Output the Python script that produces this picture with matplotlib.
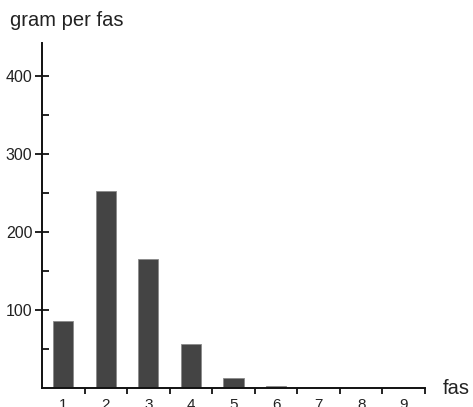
import matplotlib
matplotlib.use("Agg")
import matplotlib.pyplot as plt
from matplotlib.ticker import FixedLocator

plt.rcParams['font.family'] = ['Liberation Sans', 'DejaVu Sans']

phases = [1, 2, 3, 4, 5, 6, 7, 8, 9]
grams = [86, 253, 165, 57, 13, 3, 0, 0, 0]
x_labels = ['1', '2', '3', '4', '5', '6', '7', '8', '9']
y_major = [100, 200, 300, 400]
y_minor = [50, 150, 250, 350]

W, H = 473, 407
fig = plt.figure(figsize=(W / 100, H / 100), dpi=100)
ax = fig.add_axes([42 / W, 1 - 388 / H, (425 - 42) / W, (388 - 43) / H])

ax.bar(phases, grams, width=0.47, color='#444444', edgecolor='#8a8a8a', linewidth=0.6)

ax.set_xlim(0.5, 9.5)
ax.set_ylim(0, 442)

for s in ['top', 'right']:
    ax.spines[s].set_visible(False)
for s in ['left', 'bottom']:
    ax.spines[s].set_linewidth(1.4)
    ax.spines[s].set_color('#111111')

# x: labels under the bars, tick marks between the bars
ax.set_xticks(phases)
ax.set_xticklabels(x_labels)
ax.xaxis.set_minor_locator(FixedLocator([p + 0.5 for p in phases]))
ax.tick_params(axis='x', which='major', length=0, pad=7, labelsize=11, colors='#222222')
ax.tick_params(axis='x', which='minor', length=4, width=1.3, direction='out', color='#111111')

# y: crossing major ticks, inward minor ticks
ax.set_yticks(y_major)
ax.yaxis.set_minor_locator(FixedLocator(y_minor))
ax.tick_params(axis='y', which='major', length=10, width=1.3, direction='inout', pad=2,
               labelsize=11.5, colors='#222222')
ax.tick_params(axis='y', which='minor', length=5, width=1.3, direction='in', color='#111111')
ax.tick_params(axis='y', which='major', color='#111111')

fig.text(10 / W, 1 - 21 / H, 'gram per fas', fontsize=14.5, va='center', ha='left', color='#222222')
fig.text(443 / W, 1 - 389 / H, 'fas', fontsize=14.5, va='center', ha='left', color='#222222')

fig.savefig('out.png', dpi=100)
